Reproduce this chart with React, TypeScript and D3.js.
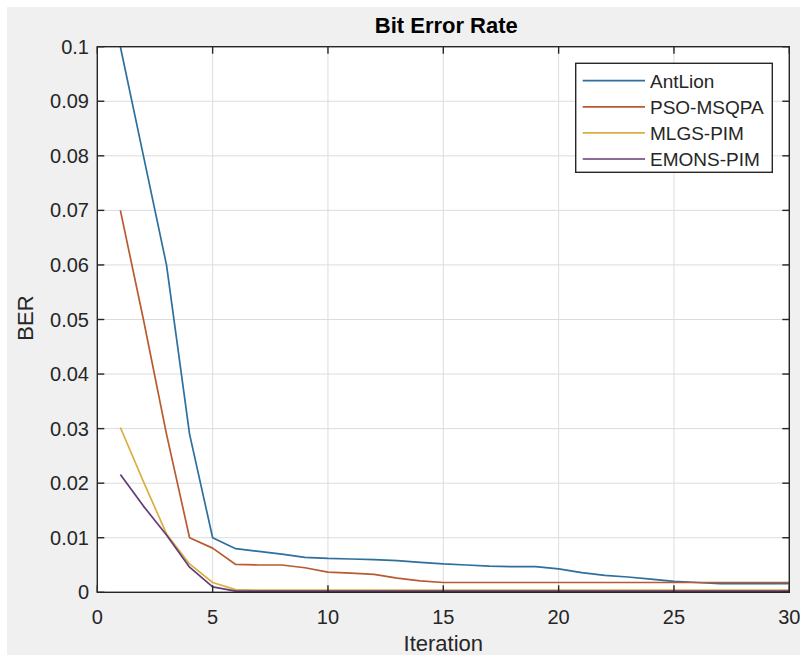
import React, { useEffect, useRef } from "react";
import * as d3 from "d3";

const iterations = d3.range(1, 31);
const seriesNames = ["AntLion", "PSO-MSQPA", "MLGS-PIM", "EMONS-PIM"];
const antLion = [0.1, 0.08, 0.06, 0.029, 0.01, 0.008, 0.0075, 0.007, 0.0064, 0.0062, 0.0061, 0.006, 0.0058, 0.0055, 0.0052, 0.005, 0.0048, 0.0047, 0.0047, 0.0043, 0.0036, 0.0031, 0.0028, 0.0024, 0.002, 0.0018, 0.0016, 0.0016, 0.0016, 0.0016];
const psoMsqpa = [0.07, 0.05, 0.029, 0.01, 0.0081, 0.0051, 0.005, 0.005, 0.0045, 0.0037, 0.0035, 0.0033, 0.0026, 0.0021, 0.0018, 0.0018, 0.0018, 0.0018, 0.0018, 0.0018, 0.0018, 0.0018, 0.0018, 0.0018, 0.0018, 0.0018, 0.0018, 0.0018, 0.0018, 0.0018];
const mlgsPim = [0.0302, 0.0203, 0.0107, 0.0052, 0.0018, 0.0005, 0.0004, 0.0004, 0.0004, 0.0004, 0.0004, 0.0004, 0.0004, 0.0004, 0.0004, 0.0004, 0.0004, 0.0004, 0.0004, 0.0004, 0.0004, 0.0004, 0.0004, 0.0004, 0.0004, 0.0004, 0.0004, 0.0004, 0.0004, 0.0004];
const emonsPim = [0.0216, 0.0158, 0.0105, 0.0046, 0.001, 0.0002, 0.0002, 0.0002, 0.0002, 0.0002, 0.0002, 0.0002, 0.0002, 0.0002, 0.0002, 0.0002, 0.0002, 0.0002, 0.0002, 0.0002, 0.0002, 0.0002, 0.0002, 0.0002, 0.0002, 0.0002, 0.0002, 0.0002, 0.0002, 0.0002];
const seriesValues = [antLion, psoMsqpa, mlgsPim, emonsPim];
const colors = ["#2d6f9e", "#b95a30", "#d8b040", "#643a78"];
const xTicks = [0, 5, 10, 15, 20, 25, 30];
const yTicks = [0, 0.01, 0.02, 0.03, 0.04, 0.05, 0.06, 0.07, 0.08, 0.09, 0.1];
const yTickLabels = ["0", "0.01", "0.02", "0.03", "0.04", "0.05", "0.06", "0.07", "0.08", "0.09", "0.1"];

const W = 800, H = 657;
const L = 97.3, R = 789.3, T = 46.7, B = 592.3;
const FONT = "'Liberation Sans', Arial, Helvetica, sans-serif";
const TXT = "#262626";

export default function App() {
  const ref = useRef<SVGSVGElement>(null);
  useEffect(() => {
    const svg = d3.select(ref.current);
    svg.selectAll("*").remove();
    const x = d3.scaleLinear().domain([0, 30]).range([L, R]);
    const y = d3.scaleLinear().domain([0, 0.1]).range([B, T]);

    svg.append("rect").attr("x", 0).attr("y", 0).attr("width", W).attr("height", H).attr("fill", "#ffffff");
    svg.append("rect").attr("x", 7).attr("y", 7).attr("width", W - 7).attr("height", H - 9).attr("fill", "#f0f0f0");
    svg.append("rect").attr("x", L).attr("y", T).attr("width", R - L).attr("height", B - T).attr("fill", "#ffffff");

    const grid = svg.append("g").attr("stroke", "#dcdcdc").attr("stroke-width", 1);
    xTicks.forEach((t) => {
      grid.append("line").attr("x1", x(t)).attr("x2", x(t)).attr("y1", T).attr("y2", B);
    });
    yTicks.forEach((t) => {
      grid.append("line").attr("x1", L).attr("x2", R).attr("y1", y(t)).attr("y2", y(t));
    });

    const line = d3.line<number>().x((_, i) => x(iterations[i])).y((d) => y(d));
    seriesValues.forEach((vals, k) => {
      svg.append("path").attr("d", line(vals) as string).attr("fill", "none")
        .attr("stroke", colors[k]).attr("stroke-width", 1.7).attr("stroke-linejoin", "round");
    });

    const ax = svg.append("g").attr("stroke", TXT).attr("stroke-width", 1.4);
    ax.append("rect").attr("x", L).attr("y", T).attr("width", R - L).attr("height", B - T).attr("fill", "none");
    const tl = 7;
    xTicks.forEach((t) => {
      ax.append("line").attr("x1", x(t)).attr("x2", x(t)).attr("y1", B).attr("y2", B - tl);
      ax.append("line").attr("x1", x(t)).attr("x2", x(t)).attr("y1", T).attr("y2", T + tl);
    });
    yTicks.forEach((t) => {
      ax.append("line").attr("x1", L).attr("x2", L + tl).attr("y1", y(t)).attr("y2", y(t));
      ax.append("line").attr("x1", R).attr("x2", R - tl).attr("y1", y(t)).attr("y2", y(t));
    });

    const txt = svg.append("g").attr("font-family", FONT).attr("fill", TXT);
    xTicks.forEach((t) => {
      txt.append("text").attr("x", x(t)).attr("y", 624).attr("text-anchor", "middle")
        .attr("font-size", 20).text(String(t));
    });
    yTicks.forEach((t, i) => {
      txt.append("text").attr("x", 89).attr("y", y(t) + 7).attr("text-anchor", "end")
        .attr("font-size", 20).text(yTickLabels[i]);
    });
    txt.append("text").attr("x", (L + R) / 2).attr("y", 651).attr("text-anchor", "middle")
      .attr("font-size", 22).text("Iteration");
    txt.append("text").attr("transform", `translate(33,318) rotate(-90)`).attr("text-anchor", "middle")
      .attr("font-size", 22).text("BER");
    txt.append("text").attr("x", (L + R) / 2 + 3).attr("y", 33).attr("text-anchor", "middle")
      .attr("font-size", 22).attr("font-weight", "bold").attr("fill", "#000").text("Bit Error Rate");

    const lg = svg.append("g");
    lg.append("rect").attr("x", 575.7).attr("y", 63.3).attr("width", 196.6).attr("height", 109)
      .attr("fill", "#fff").attr("stroke", TXT).attr("stroke-width", 1.4);
    seriesNames.forEach((name, k) => {
      const yy = 80.7 + k * 26.1;
      lg.append("line").attr("x1", 582.7).attr("x2", 645).attr("y1", yy).attr("y2", yy)
        .attr("stroke", colors[k]).attr("stroke-width", 1.7);
      lg.append("text").attr("x", 650).attr("y", yy + 7).attr("font-family", FONT)
        .attr("font-size", 19).attr("fill", TXT).text(name);
    });
  }, []);
  return (
    <svg ref={ref} width={W} height={H} style={{ position: "absolute", left: 0, top: 0 }} />
  );
}
